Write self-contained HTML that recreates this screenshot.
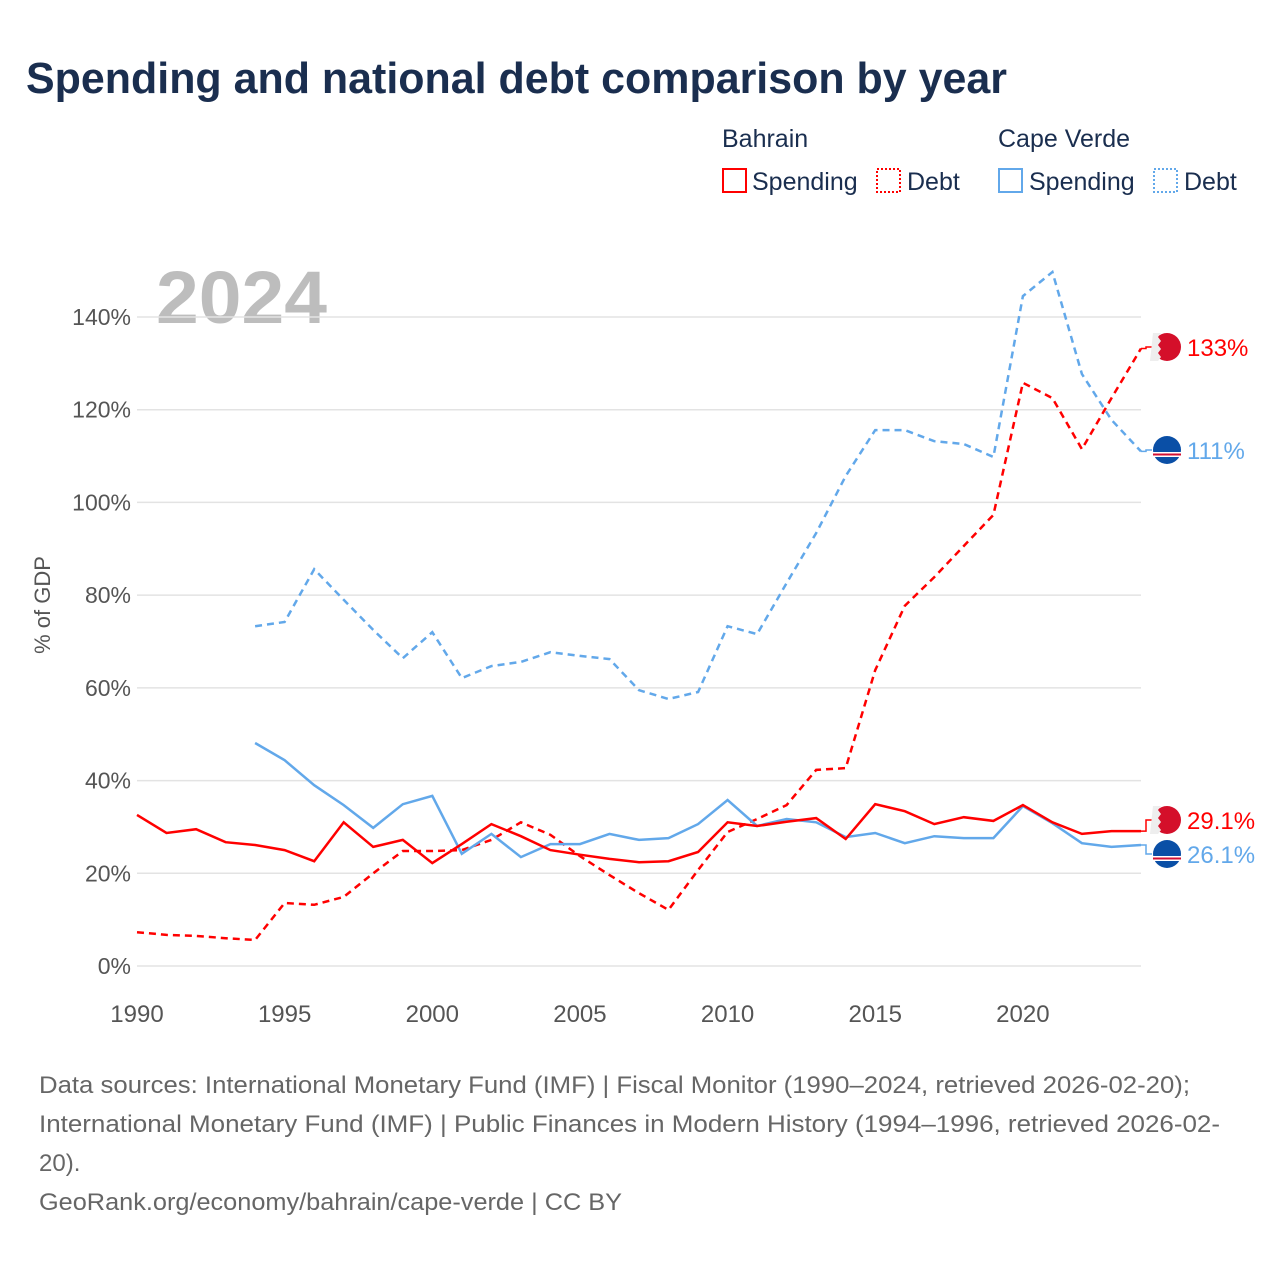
<!DOCTYPE html>
<html><head><meta charset="utf-8"><style>
body{margin:0;background:#fff;font-family:"Liberation Sans",sans-serif}
#wrap{position:relative;width:1280px;height:1280px;overflow:hidden}
</style></head><body>
<div id="wrap">
<svg id="svg" width="1280" height="1280" xmlns="http://www.w3.org/2000/svg">
<text x="26" y="93" font-size="44" font-weight="bold" fill="#1a2e4f" textLength="981" lengthAdjust="spacingAndGlyphs">Spending and national debt comparison by year</text>
<g font-size="25" fill="#1a2e4f">
<text x="722" y="147">Bahrain</text>
<text x="998" y="147">Cape Verde</text>
<g><rect x="723" y="169" width="23" height="23" fill="none" stroke="#f00" stroke-width="2"/><text x="752" y="190">Spending</text></g>
<g><rect x="877" y="169" width="23" height="23" fill="none" stroke="#f00" stroke-width="2" stroke-dasharray="2 2"/><text x="907" y="190">Debt</text></g>
<g><rect x="999" y="169" width="23" height="23" fill="none" stroke="#62a8ea" stroke-width="2"/><text x="1029" y="190">Spending</text></g>
<g><rect x="1154" y="169" width="23" height="23" fill="none" stroke="#62a8ea" stroke-width="2" stroke-dasharray="2 2"/><text x="1184" y="190">Debt</text></g>
</g>
<text x="156" y="323" font-size="74" font-weight="bold" fill="#bdbdbd" textLength="171" lengthAdjust="spacingAndGlyphs">2024</text>
<text transform="translate(50,605) rotate(-90)" text-anchor="middle" font-size="22" fill="#555">% of GDP</text>
<g id="grid"></g><g id="series"></g><g id="labels"></g>
<g font-size="24" fill="#666">
<text x="39" y="1093" textLength="1151" lengthAdjust="spacingAndGlyphs">Data sources: International Monetary Fund (IMF) | Fiscal Monitor (1990–2024, retrieved 2026-02-20);</text>
<text x="39" y="1132" textLength="1181" lengthAdjust="spacingAndGlyphs">International Monetary Fund (IMF) | Public Finances in Modern History (1994–1996, retrieved 2026-02-</text>
<text x="39" y="1171">20).</text>
<text x="39" y="1210" textLength="583" lengthAdjust="spacingAndGlyphs">GeoRank.org/economy/bahrain/cape-verde | CC BY</text>
</g>
</svg>
</div>
<script>
const years=[];for(let y=1990;y<=2024;y++)years.push(y);
const bhSpending=[32.6,28.7,29.5,26.7,26.1,25,22.6,31,25.7,27.2,22.2,26.3,30.6,28,25,24,23.1,22.4,22.6,24.6,31,30.2,31.1,31.9,27.4,34.9,33.4,30.6,32.1,31.3,34.7,31,28.5,29.1,29.1];
const bhDebt=[7.3,6.7,6.5,6,5.6,13.6,13.2,14.9,20,24.8,24.8,25,27.2,31,28.3,23.7,19.6,15.7,12.1,20.7,28.9,31.7,34.7,42.3,42.7,63.8,77.7,83.9,90.6,97.3,125.8,122.5,111.5,122.5,133.2];
const cvSpending=[null,null,null,null,48.1,44.4,39,34.7,29.8,34.9,36.7,24.2,28.5,23.5,26.3,26.3,28.5,27.2,27.6,30.6,35.8,30.2,31.7,31,27.8,28.7,26.5,28,27.6,27.6,34.5,30.8,26.5,25.7,26.1];
const cvDebt=[null,null,null,null,73.3,74.2,85.6,79,72.5,66.4,72,62.1,64.7,65.6,67.7,66.9,66.2,59.5,57.6,59.1,73.3,71.6,82.6,93.4,105.7,115.6,115.6,113.2,112.6,109.8,144.5,149.7,127.7,117.8,111];
const yTicks=[0,20,40,60,80,100,120,140];
const xTicks=[1990,1995,2000,2005,2010,2015,2020];
const NS="http://www.w3.org/2000/svg";
const X=y=>137+(y-1990)*(1141-137)/34;
const Y=v=>966-v*(966-317)/140;
function el(t,a,p){const e=document.createElementNS(NS,t);for(const k in a)e.setAttribute(k,a[k]);p.appendChild(e);return e;}
const grid=document.getElementById('grid');
yTicks.forEach(v=>{
 const l=el('line',{x1:137,x2:1141,y1:Y(v),y2:Y(v),stroke:'#e3e3e3','stroke-width':1.5},grid);
 
 
 const t=el('text',{x:131,y:Y(v)+8,'text-anchor':'end','font-size':23,fill:'#555'},grid);t.textContent=v+'%';
 
 
});
xTicks.forEach(v=>{
 const t=el('text',{x:X(v),y:1022,'text-anchor':'middle','font-size':24,fill:'#555'},grid);t.textContent=v;
 
 
});
const ser=document.getElementById('series');
function line(vals,color,dash,name){
 let d='';vals.forEach((v,i)=>{if(v==null)return;d+=(d?'L':'M')+X(years[i]).toFixed(1)+','+Y(v).toFixed(1);});
 const p=el('path',{d:d,fill:'none',stroke:color,'stroke-width':2.5,'stroke-dasharray':dash},ser);
 
 
}
line(cvDebt,'#62a8ea','7 5','line-capeverde-debt');
line(bhDebt,'#f00','7 5','line-bahrain-debt');
line(cvSpending,'#62a8ea','none','line-capeverde-spending');
line(bhSpending,'#f00','none','line-bahrain-spending');
const lab=document.getElementById('labels');
function endLabel(v,ly,color,flag,name){
 const y0=Y(v);
 const c=el('path',{d:`M1141,${y0}L1146,${y0}L1146,${ly}L1152,${ly}`,fill:'none',stroke:color,'stroke-width':1.5},lab);
 
 
 const g=el('g',{},lab);
 
 
 if(flag==='bh'){
  el('circle',{cx:1167,cy:ly,r:14,fill:'#d40f2a'},g);
  el('path',{d:`M1153,${ly-14}h8l-3,4l3,4l-3,4l3,4l-3,4l3,4l-3,4h-8z`,fill:'#eee'},g);
 }else{
  el('circle',{cx:1167,cy:ly,r:14,fill:'#0a4fa6'},g);
  el('rect',{x:1153,y:ly+2,width:28,height:5,fill:'#fff'},g);
  el('rect',{x:1153,y:ly+3.5,width:28,height:2,fill:'#d21034'},g);
 }
 const t=el('text',{x:1187,y:ly+9,'font-size':24,fill:color},lab);
 t.textContent=(v>=100?Math.round(v):v.toFixed(1))+'%';
 
 
}
endLabel(bhDebt[34],347,'#f00','bh','label-bahrain-debt');
endLabel(cvDebt[34],450,'#62a8ea','cv','label-capeverde-debt');
endLabel(bhSpending[34],820,'#f00','bh','label-bahrain-spending');
endLabel(cvSpending[34],854,'#62a8ea','cv','label-capeverde-spending');
</script>
</body></html>
